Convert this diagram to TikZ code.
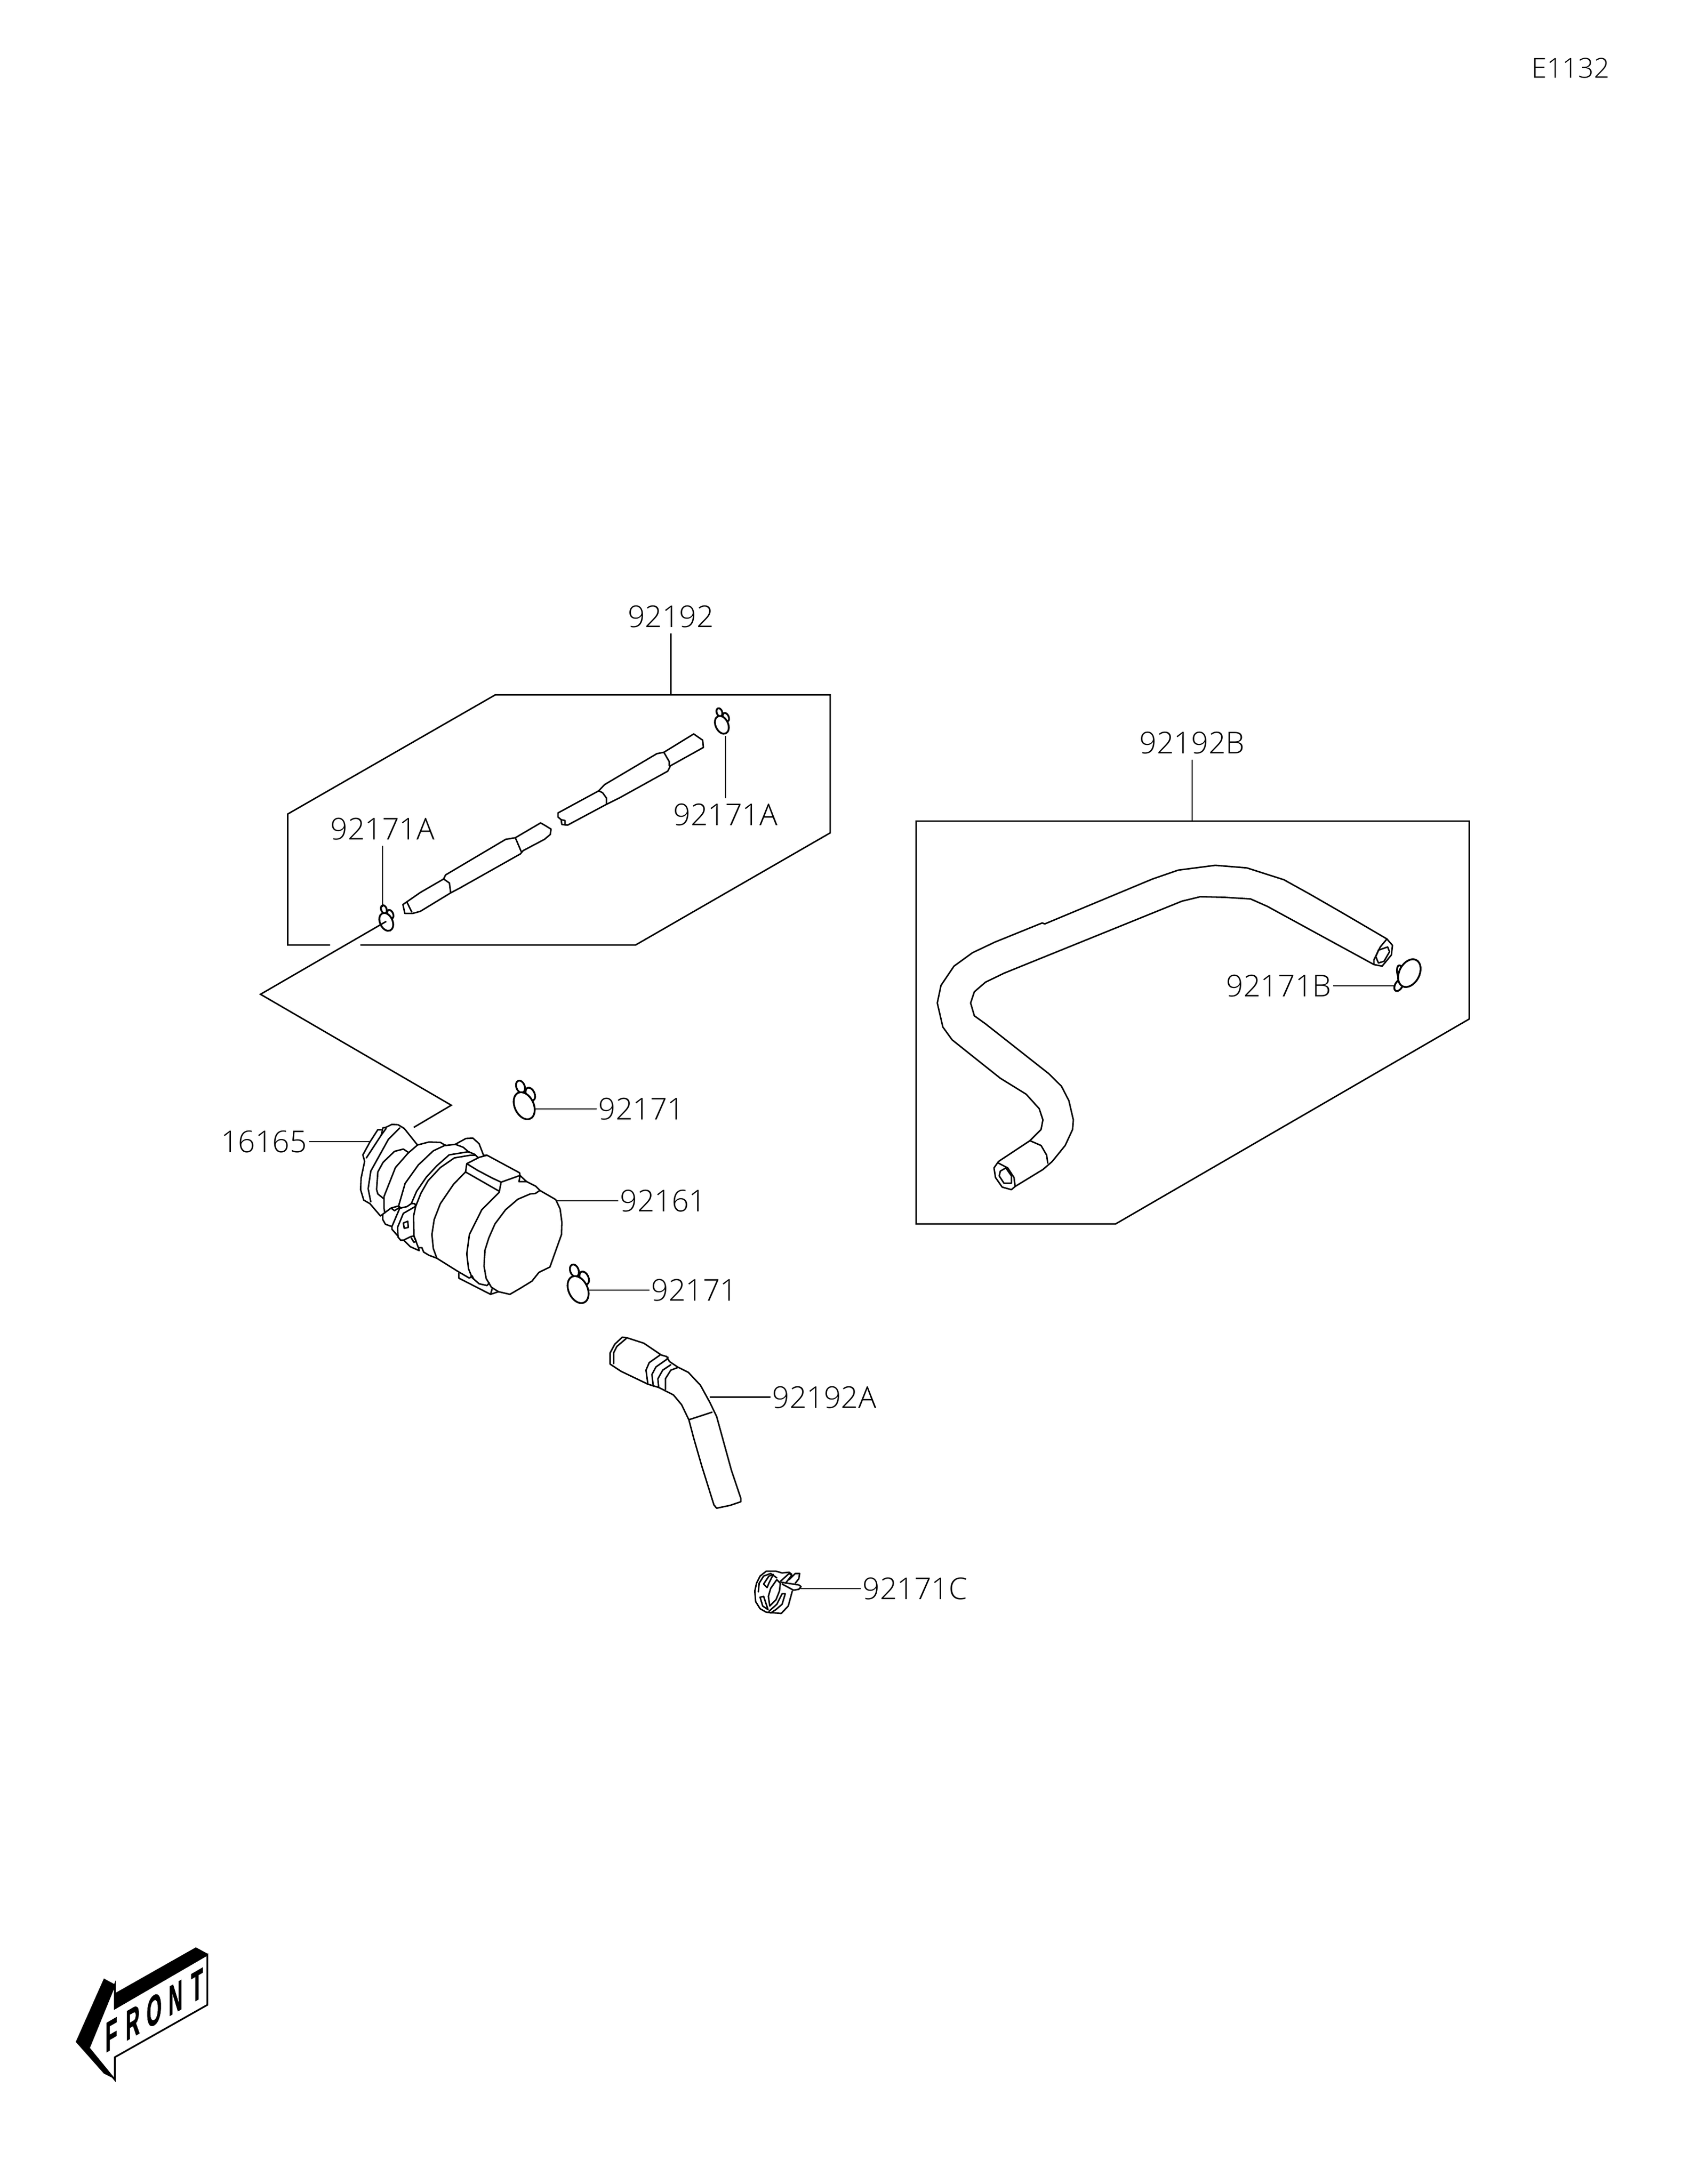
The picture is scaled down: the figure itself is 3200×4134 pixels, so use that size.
\documentclass[tikz,border=0pt]{standalone}
\usepackage{fontspec}
\newfontfamily\labfont{Open Sans Light}
\newfontfamily\frontfont[FakeBold=1.6]{Liberation Sans Bold}
\newcommand\bandclip[3]{%
  \begin{scope}[shift={(#1,#2)},scale=#3]
    \draw[clipline] (-7,-36) ellipse [x radius=12,y radius=8,rotate=-70];
    \draw[clipline] (11.6,-22) ellipse [x radius=13,y radius=8,rotate=-65];
    \draw[clipline,fill=white] (0,0) ellipse [x radius=27,y radius=18,rotate=-65];
  \end{scope}}
\tikzset{
  part/.style={line width=1.4pt,line join=round,line cap=round},
  clipline/.style={line width=1.7pt,line join=round},
  leader/.style={line width=1.4pt},
  boxline/.style={line width=1.4pt,line join=miter},
  lab/.style={font=\labfont\fontsize{28.5}{30}\selectfont,inner sep=0pt,outer xsep=2pt,outer ysep=5.5pt,text height=20.5pt,text depth=0pt,anchor=center}
}
\begin{document}
\begin{tikzpicture}[x=0.5pt,y=-0.5pt]
\useasboundingbox (0,0) rectangle (3200,4134);
% labels
\node[lab,font=\labfont\fontsize{26}{28}\selectfont,text height=18pt] (E) at (2972,129) {E1132};
\node[lab] (l92192) at (1269.4,1167) {92192};
\node[lab] (lA1) at (724,1569) {92171A};
\node[lab] (lA2) at (1373,1542) {92171A};
\node[lab] (lB) at (2256,1406) {92192B};
\node[lab] (lB1) at (2420,1866) {92171B};
\node[lab] (lU) at (1214,2099) {92171};
\node[lab] (lL) at (1314,2442) {92171};
\node[lab] (l92161) at (1255,2273) {92161};
\node[lab] (l16165) at (499.5,2161) {16165};
\node[lab] (lH) at (1560,2644.5) {92192A};
\node[lab] (lC) at (1731.7,3007) {92171C};
% leader ends
\coordinate (e92192) at (1269.4,1315);
\coordinate (eA1) at (724,1717);
\coordinate (eA2) at (1373,1393);
\coordinate (eB) at (2256,1554);
\coordinate (eB1) at (2640,1866);
\coordinate (eU) at (1012,2099);
\coordinate (eL) at (1114,2442);
\coordinate (e92161) at (1053,2273);
\coordinate (e16165) at (698.5,2161);
\coordinate (eH) at (1343,2644.5);
\coordinate (eC) at (1515,3007);
\draw[leader] (l92192.south) -- (l92192.south |- e92192);
\draw[leader] (lA1.south) -- (lA1.south |- eA1);
\draw[leader] (lA2.north) -- (lA2.north |- eA2);
\draw[leader] (lB.south) -- (lB.south |- eB);
\draw[leader] (lB1.east) -- (eB1 |- lB1.east);
\draw[leader] (lU.west) -- (eU |- lU.west);
\draw[leader] (lL.west) -- (eL |- lL.west);
\draw[leader] (l92161.west) -- (e92161 |- l92161.west);
\draw[leader] (l16165.east) -- (e16165 |- l16165.east);
\draw[leader] (lH.west) -- (eH |- lH.west);
\draw[leader] (lC.west) -- (eC |- lC.west);
% zoom 1 group: box and tubes
\begin{scope}[shift={(480,1100)},xscale=.7337,yscale=.5102]
\draw[boxline] (275,1350) -- (985,1350) -- (1487,934) -- (1487,422) -- (623,422) -- (88,864) -- (88,1350) -- (197,1350);
\draw[part] (385,1200) -- (395,1190) -- (430,1155) -- (490,1105) -- (495,1090) -- (650,958) -- (675,952) -- (740,897) -- (750,905) -- (767,920) -- (765,940) -- (750,958) -- (695,1000) -- (688,1012) -- (530,1140) -- (510,1155) -- (430,1225) -- (410,1233) -- (390,1233) -- cycle;
\draw[part] (395,1190) -- (408,1228);
\draw[part] (490,1105) -- (505,1120) -- (508,1155);
\draw[part] (675,952) -- (690,1003);
\draw[part] (785,860) -- (890,778) -- (905,755) -- (1040,640) -- (1058,635) -- (1135,567) -- (1158,590) -- (1160,617) -- (1075,685) -- (1068,705) -- (945,803) -- (910,828) -- (810,905) -- (795,903) -- (793,885) -- (785,875) -- cycle;
\draw[part] (890,778) -- (900,785) -- (910,805) -- (910,828);
\draw[part] (1058,635) -- (1072,670) -- (1072,685);
\draw[part] (793,885) -- (803,888) -- (803,903);
\end{scope}
\bandclip{731}{1745}{.66}
\bandclip{1366}{1372}{.66}
\bandclip{992}{2093}{1}
\bandclip{1094}{2441}{1}
% long jog line
\coordinate (j1) at (731,1744);
\coordinate (j2) at (493,1882);
\coordinate (j3) at (854,2092);
\coordinate (j4) at (783,2134);
\draw[boxline] (j1) -- (j2) -- (j3) -- (j4);
% pump
\begin{scope}[shift={(620,2060)},scale=.3333,x=0.5pt,y=-0.5pt]
\draw[part] (200,378) -- (240,305) -- (285,235) -- (303,235);
\draw[part] (200,378) -- (210,415) -- (190,510) -- (187,575) -- (205,635) -- (240,655) -- (300,725) -- (313,715);
\draw[part] (220,395) -- (305,265) -- (313,225) -- (330,222) -- (365,205) -- (400,207) -- (435,228) -- (510,322);
\draw[part] (305,265) -- (332,228);
\draw[part] (410,225) -- (345,290) -- (245,470) -- (230,570) -- (245,645);
\draw[part] (460,365) -- (430,345) -- (380,358) -- (315,420) -- (285,475) -- (278,575) -- (285,600) -- (320,628);
\draw[part] (510,322) -- (455,370) -- (385,450) -- (320,615) -- (320,680) -- (325,708);
\draw[part] (510,322) -- (575,305) -- (640,307) -- (670,325) -- (725,318) -- (785,285) -- (825,283) -- (860,315) -- (885,380);
\draw[part] (670,322) -- (600,355) -- (515,435) -- (440,540) -- (403,668);
\draw[part] (725,318) -- (770,335) -- (805,365);
\draw[part] (475,655) -- (505,585) -- (560,505) -- (620,440) -- (690,378) -- (800,360) -- (835,375) -- (855,395);
\draw[part] (500,670) -- (530,595) -- (570,525) -- (640,450) -- (720,395) -- (810,380) -- (840,380);
\draw[part] (885,380) -- (905,380) -- (1090,480) -- (1092,495) -- (985,533) -- (975,585);
\draw[part] (790,428) -- (860,392) -- (905,380);
\draw[part] (790,428) -- (850,465) -- (935,510) -- (985,533);
\draw[part] (790,428) -- (783,475) -- (975,585);
\draw[part] (783,475) -- (715,545) -- (640,655) -- (605,745) -- (592,830) -- (600,910) -- (620,965);
\draw[part] (975,590) -- (875,690) -- (805,830) -- (790,940) -- (800,1025) -- (820,1075) -- (860,1110) -- (905,1120) -- (918,1105);
\draw[part] (1092,495) -- (1087,530) -- (1130,530) -- cycle;
\draw[part] (1130,530) -- (1180,555) -- (1205,580) -- (1295,632) -- (1320,685) -- (1330,760) -- (1328,830) -- (1262,1015) -- (1200,1045) -- (1160,1095) -- (1095,1135) -- (1035,1170) -- (970,1155) -- (930,1130) -- (900,1080) -- (888,1010) -- (893,920) -- (915,850) -- (950,770) -- (1010,690) -- (1080,630) -- (1150,600) -- (1180,597) -- (1205,580);
\draw[part] (620,965) -- (740,1040) -- (805,1078) -- (820,1065) -- (830,1085);
\draw[part] (745,1050) -- (745,1078) -- (925,1170) -- (970,1155);
\draw[part] (935,1135) -- (925,1170);
\draw[part] (313,715) -- (360,680) -- (380,695) -- (410,675) -- (403,668) -- (360,680);
\draw[part] (403,668) -- (415,680) -- (450,672) -- (475,655) -- (495,655) -- (500,670) -- (430,710);
\draw[part] (410,680) -- (365,785) -- (328,772) -- (313,745) -- (313,715);
\draw[part] (430,710) -- (397,790) -- (400,845) -- (415,863) -- (432,862) -- (470,843) -- (490,838) -- (488,725) -- (500,670);
\draw[part] (365,785) -- (365,800) -- (400,840);
\draw[part] (432,862) -- (470,900) -- (520,922) -- (515,905) -- (535,905) -- (545,930) -- (575,948) -- (620,965);
\draw[part] (490,838) -- (515,905);
\draw[part] (475,850) -- (490,875) -- (502,868) -- (490,840);
\draw[part] (430,765) -- (455,755) -- (458,790) -- (435,795) -- cycle;
\end{scope}
% box B, hose B
\begin{scope}[shift={(1700,1350)},xscale=.7015,yscale=.6061]
\draw[boxline] (48,337) -- (1540,337) -- (1540,955) -- (586,1595) -- (48,1595) -- cycle;
\draw[part] (1318,705) -- (1200,625) -- (1110,565) -- (1040,520) -- (940,483) -- (855,475) -- (755,490) -- (685,518) -- (395,658) -- (388,655) -- (260,715) -- (200,748) -- (150,790) -- (115,850) -- (105,905) -- (120,980) -- (145,1020) -- (275,1140) -- (345,1190) -- (380,1235) -- (390,1270) -- (385,1300) -- (355,1335) -- (270,1400);
\draw[part] (1283,785) -- (995,603) -- (950,580) -- (880,575) -- (815,573) -- (765,587) -- (285,812) -- (235,840) -- (205,870) -- (195,905) -- (205,945) -- (235,970) -- (405,1125) -- (440,1165) -- (460,1210) -- (472,1270) -- (470,1300) -- (450,1350) -- (415,1400) -- (390,1425) -- (315,1478) -- (305,1488) -- (280,1480) -- (262,1450) -- (258,1420) -- (270,1400);
\draw[part] (355,1335) -- (385,1350) -- (400,1380) -- (403,1405);
\draw[part] (270,1405) -- (295,1420) -- (312,1450) -- (315,1478);
\draw[part] (275,1430) -- (290,1420) -- (305,1445) -- (305,1468) -- (285,1468) -- (272,1445) -- cycle;
\draw[part] (1318,705) -- (1333,725) -- (1330,755) -- (1305,790) -- (1283,785) -- (1283,770) -- (1300,730) -- cycle;
\draw[part] (1295,740) -- (1320,730) -- (1325,745) -- (1310,775) -- (1295,780) -- (1288,760) -- cycle;
\end{scope}
% clip B
\draw[clipline] (2647,1865) ellipse [x radius=12,y radius=7,rotate=60];
\draw[clipline] (2650,1841) ellipse [x radius=14,y radius=6,rotate=-80];
\draw[clipline,fill=white] (2667,1842) ellipse [x radius=28,y radius=19,rotate=62];
% hose A
\begin{scope}[shift={(1050,2420)},xscale=.5102,yscale=.4082]
\draw[part] (205,397) -- (205,345) -- (222,305) -- (250,272) -- (268,275) -- (330,300) -- (395,355) -- (415,362) -- (425,385) -- (455,410) -- (495,435) -- (540,495) -- (575,575) -- (600,640) -- (655,890) -- (690,1020) -- (690,1035) -- (650,1052) -- (600,1065) -- (590,1050) -- (565,950) -- (545,870) -- (515,740) -- (497,655) -- (470,585) -- (440,540) -- (385,505) -- (345,490) -- (245,430) -- cycle;
\draw[part] (218,395) -- (218,345) -- (230,315) -- (265,278);
\draw[part] (345,490) -- (338,425) -- (350,390) -- (390,355);
\draw[part] (365,500) -- (360,445) -- (375,410) -- (415,375) -- (420,365);
\draw[part] (385,505) -- (382,465) -- (400,425) -- (430,400);
\draw[part] (410,515) -- (410,465) -- (430,425) -- (458,412);
\draw[part] (497,655) -- (583,620);
\end{scope}
% clamp C
\begin{scope}[shift={(1380,2900)},scale=.3333,x=0.5pt,y=-0.5pt]
\draw[part] (145,335) -- (155,290) -- (175,250) -- (210,222) -- (265,222) -- (300,232) -- (340,228) -- (355,240);
\draw[part] (145,335) -- (150,395) -- (175,435) -- (210,455) -- (295,462) -- (335,420) -- (358,335);
\draw[part] (165,340) -- (170,290) -- (195,250) -- (235,235) -- (270,260);
\draw[part] (270,270) -- (235,320) -- (222,365) -- (230,420) -- (265,385) -- (285,335) -- (290,290) -- cycle;
\draw[part] (195,295) -- (225,250) -- (250,240) -- (225,290) -- (215,315) -- cycle;
\draw[part] (175,370) -- (195,365) -- (220,440) -- (190,420) -- cycle;
\draw[part] (225,450) -- (270,410) -- (300,350) -- (318,350) -- (300,410) -- (265,440) -- (235,460);
\draw[part] (290,280) -- (340,235) -- (355,245) -- (320,290);
\draw[part] (340,270) -- (375,235) -- (400,235) -- (395,265) -- (375,290);
\draw[part] (295,285) -- (395,300) -- (408,310) -- (395,325) -- (365,330) -- (300,295);
\end{scope}
% FRONT arrow
\begin{scope}[shift={(100,3600)},scale=.3333,x=0.5pt,y=-0.5pt]
\fill (350,520) -- (812,258) -- (880,295) -- (875,305) -- (350,605) -- cycle;
\fill (290,435) -- (355,470) -- (205,830) -- (350,1005) -- (290,975) -- (130,795) -- cycle;
\draw[line width=1.6pt,line join=miter] (352,470) -- (352,605) -- (877,300) -- (877,585) -- (352,882) -- (352,1010) -- (205,830) -- cycle;
\end{scope}
\begin{scope}[shift={(291.7,3805)},cm={.46,.265,0,1,(0,0)}]
\node[transform shape,inner sep=0pt,font=\frontfont\fontsize{40}{42}\selectfont] (front) at (0,0) {\makebox[44pt]{F}\makebox[44pt]{R}\makebox[44pt]{O}\makebox[44pt]{N}\makebox[44pt]{T}};
\end{scope}
\end{tikzpicture}
\end{document}
